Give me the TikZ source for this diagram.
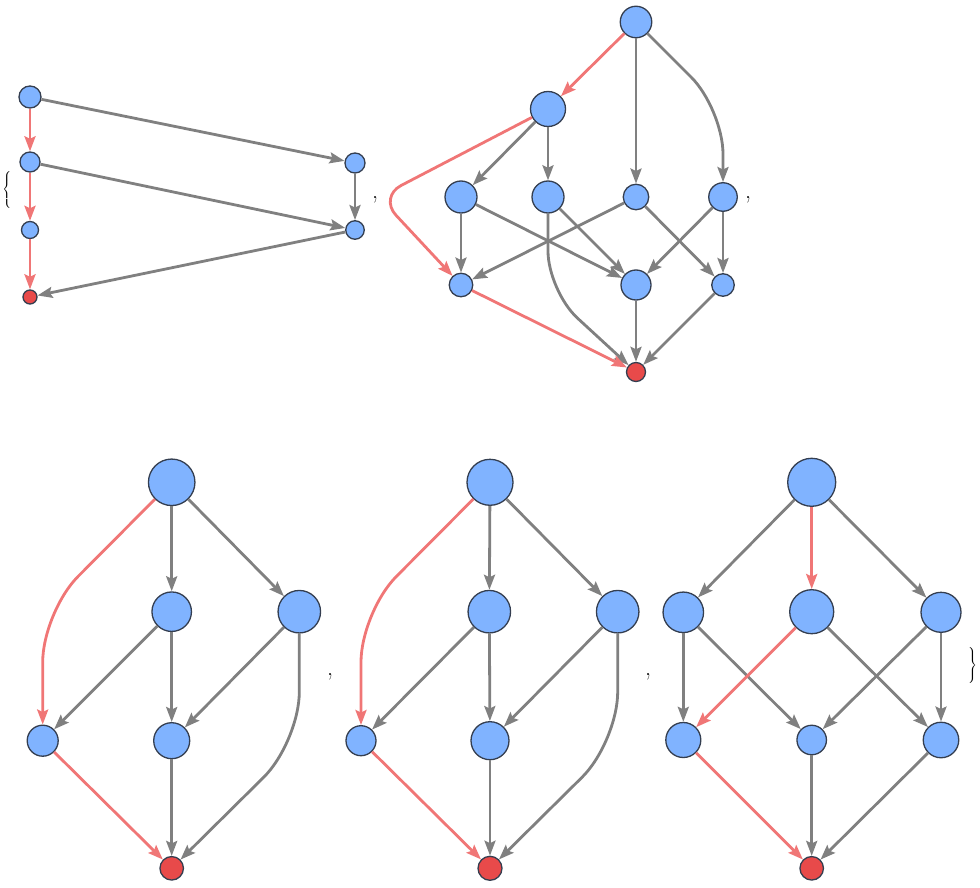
\documentclass[tikz,border=0pt]{standalone}
\usetikzlibrary{arrows.meta}
\definecolor{nodefill}{RGB}{128,179,255}
\definecolor{nodeborder}{RGB}{52,62,80}
\definecolor{nodered}{RGB}{232,74,74}
\definecolor{edgegray}{RGB}{128,128,128}
\definecolor{edgered}{RGB}{240,118,118}
\tikzset{
  vb/.style={circle, draw=nodeborder, fill=nodefill, line width=1.3pt, inner sep=0pt, minimum size=#1},
  vr/.style={circle, draw=nodeborder, fill=nodered, line width=1.3pt, inner sep=0pt, minimum size=#1},
  ge/.style={draw=edgegray, line width=2.8pt, -{Stealth[length=15pt,width=11pt,inset=2.5pt]}},
  re/.style={ge, draw=edgered},
  sep/.style={font=\fontsize{24}{28}\selectfont, inner sep=0pt},
  brc/.style={inner sep=0pt},
}
\begin{document}
\begin{tikzpicture}[x=1pt,y=-1pt]
\useasboundingbox (0,0) rectangle (980,888);
% ---- top-left graph
\node[vb=22pt] (L1) at (30,97) {};
\node[vb=20pt] (L2) at (30,162) {};
\node[vb=17pt] (L3) at (30,230) {};
\node[vr=14pt] (L4) at (30,297) {};
\node[vb=20pt] (R1) at (355,163) {};
\node[vb=18.5pt] (R2) at (355,230) {};
\draw[ge] (L1) -- (R1);
\draw[ge] (R1) -- (R2);
\draw[ge] (L2) -- (R2);
\draw[ge] (R2) -- (L4);
\draw[re] (L1) -- (L2);
\draw[re] (L2) -- (L3);
\draw[re] (L3) -- (L4);
\node[brc] (lb) at (7.5,190) {$\left\{\vcenter{\hbox{\rule{0pt}{38pt}}}\right.$};
\node[sep] (c1) at (375,200) {,};
% ---- top-right graph
\node[vb=31.5pt] (T) at (636,22) {};
\node[vb=35pt] (A) at (548,109) {};
\node[vb=32pt] (B1) at (461,197) {};
\node[vb=32pt] (B2) at (548,197) {};
\node[vb=25.5pt] (B3) at (636,197) {};
\node[vb=28.5pt] (B4) at (723,197) {};
\node[vb=23.5pt] (C1) at (461,285) {};
\node[vb=30pt] (C2) at (636,285) {};
\node[vb=22.5pt] (C3) at (723,285) {};
\node[vr=19pt] (Bo) at (636,372) {};
\coordinate (k1) at (723,109);
\coordinate (k2) at (379,197);
\coordinate (k3) at (548,291);
\draw[re] (T) -- (A);
\draw[ge] (T) -- (B3);
\draw[ge, rounded corners=45pt] (T) -- (k1) -- (B4);
\draw[ge] (A) -- (B1);
\draw[ge] (A) -- (B2);
\draw[re, rounded corners=25pt] (A) -- (k2) -- (C1);
\draw[ge] (B1) -- (C1);
\draw[ge] (B1) -- (C2);
\draw[ge] (B2) -- (C2);
\draw[ge, rounded corners=40pt] (B2) -- (k3) -- (Bo);
\draw[ge] (B3) -- (C1);
\draw[ge] (B3) -- (C3);
\draw[ge] (B4) -- (C2);
\draw[ge] (B4) -- (C3);
\draw[re] (C1) -- (Bo);
\draw[ge] (C2) -- (Bo);
\draw[ge] (C3) -- (Bo);
\node[sep] (c2) at (748,200) {,};
% ---- bottom graph 1
\node[vb=46.5pt] (g1T) at (171.7,482.3) {};
\node[vb=39.5pt] (g1M1) at (171.7,611.7) {};
\node[vb=42.5pt] (g1M2) at (299.3,611.7) {};
\node[vb=31pt] (g1L) at (42.7,740.7) {};
\node[vb=36pt] (g1C) at (171.7,740.7) {};
\node[vr=23.5pt] (g1B) at (171.7,868.3) {};
\coordinate (g1k1) at (42.7,612);
\coordinate (g1k2) at (299.3,742);
\draw[re, rounded corners=50pt] (g1T) -- (g1k1) -- (g1L);
\draw[ge] (g1T) -- (g1M1);
\draw[ge] (g1T) -- (g1M2);
\draw[ge] (g1M1) -- (g1L);
\draw[ge] (g1M1) -- (g1C);
\draw[ge] (g1M2) -- (g1C);
\draw[ge, rounded corners=50pt] (g1M2) -- (g1k2) -- (g1B);
\draw[re] (g1L) -- (g1B);
\draw[ge] (g1C) -- (g1B);
\node[sep] (c3) at (330,677) {,};
% ---- bottom graph 2
\node[vb=46pt] (g2T) at (490,482.3) {};
\node[vb=42.5pt] (g2M1) at (489.3,611.7) {};
\node[vb=42.5pt] (g2M2) at (617.7,611.7) {};
\node[vb=30pt] (g2L) at (361,740.7) {};
\node[vb=38pt] (g2C) at (490,740.7) {};
\node[vr=24pt] (g2B) at (490,868.3) {};
\coordinate (g2k1) at (361,612);
\coordinate (g2k2) at (617.7,742);
\draw[re, rounded corners=50pt] (g2T) -- (g2k1) -- (g2L);
\draw[ge] (g2T) -- (g2M1);
\draw[ge] (g2T) -- (g2M2);
\draw[ge] (g2M1) -- (g2L);
\draw[ge] (g2M1) -- (g2C);
\draw[ge] (g2M2) -- (g2C);
\draw[ge, rounded corners=50pt] (g2M2) -- (g2k2) -- (g2B);
\draw[re] (g2L) -- (g2B);
\draw[ge] (g2C) -- (g2B);
\node[sep] (c4) at (648,677) {,};
% ---- bottom graph 3
\node[vb=48pt] (g3T) at (811.7,482.3) {};
\node[vb=40.5pt] (g3M1) at (683.3,612.3) {};
\node[vb=44pt] (g3M2) at (811.7,611.7) {};
\node[vb=40pt] (g3M3) at (941,612.3) {};
\node[vb=35pt] (g3L1) at (683.3,740) {};
\node[vb=29.5pt] (g3L2) at (811.7,740) {};
\node[vb=35.5pt] (g3L3) at (941,740) {};
\node[vr=23.5pt] (g3B) at (811.7,868.3) {};
\draw[ge] (g3T) -- (g3M1);
\draw[re] (g3T) -- (g3M2);
\draw[ge] (g3T) -- (g3M3);
\draw[ge] (g3M1) -- (g3L1);
\draw[ge] (g3M1) -- (g3L2);
\draw[re] (g3M2) -- (g3L1);
\draw[ge] (g3M2) -- (g3L3);
\draw[ge] (g3M3) -- (g3L2);
\draw[ge] (g3M3) -- (g3L3);
\draw[re] (g3L1) -- (g3B);
\draw[ge] (g3L2) -- (g3B);
\draw[ge] (g3L3) -- (g3B);
\node[brc] (rb) at (972,665) {$\left.\vcenter{\hbox{\rule{0pt}{38pt}}}\right\}$};
\end{tikzpicture}
\end{document}
